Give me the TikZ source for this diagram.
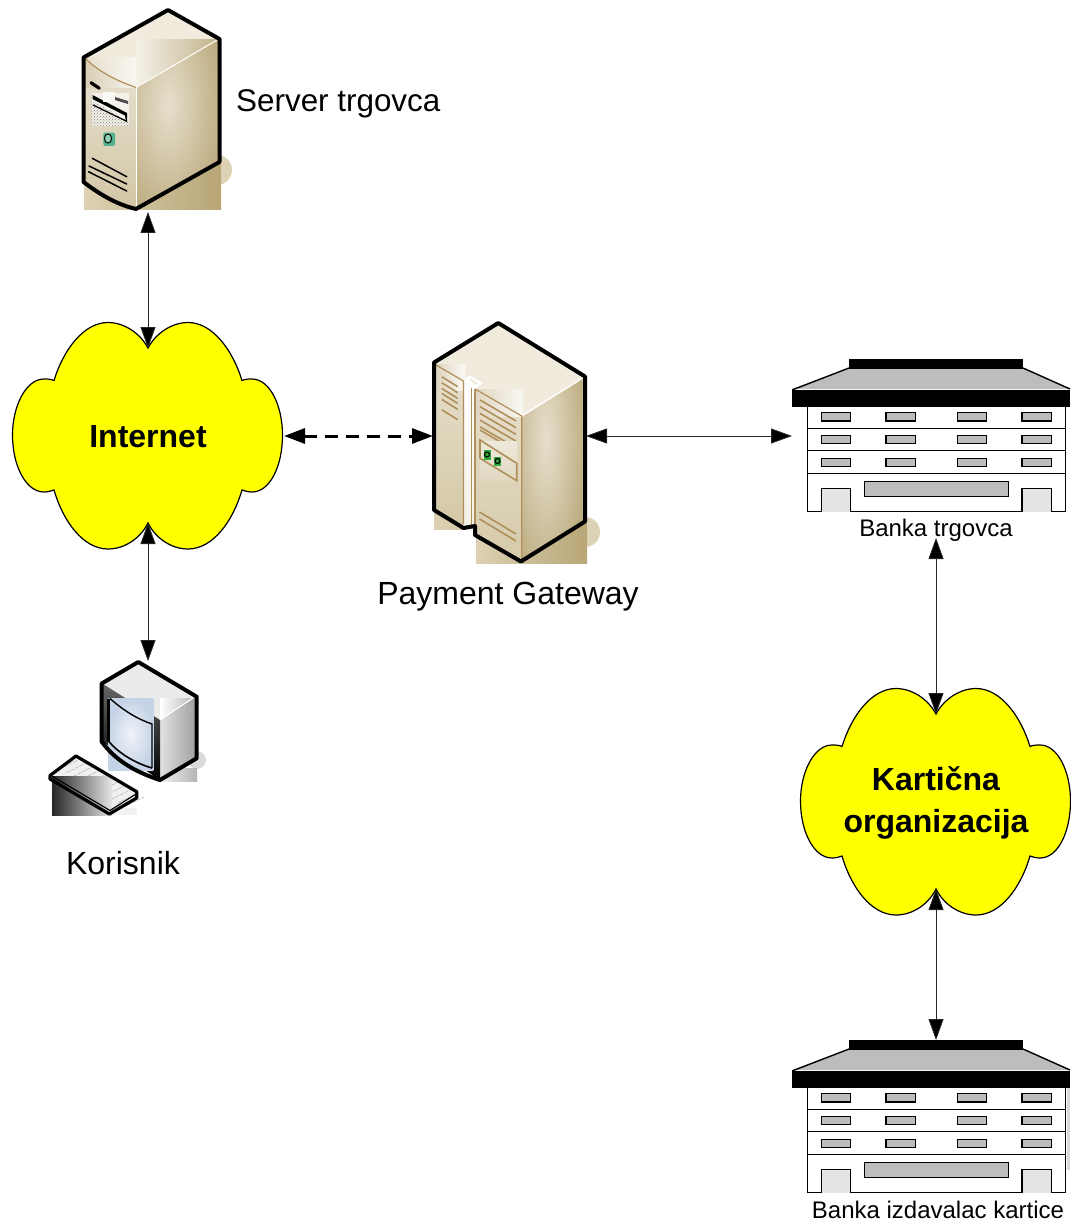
\documentclass[tikz,border=0pt]{standalone}
\usepackage{fontspec}
\setmainfont{Liberation Sans}
\usetikzlibrary{arrows.meta,patterns}
\newcommand{\hexc}[1]{\definecolor{#1}{HTML}{#1}}
\hexc{DCD1B3}\hexc{F4F1E9}\hexc{BCAC80}\hexc{D3C7A6}\hexc{E4DDCA}\hexc{CFC2A0}\hexc{D5C9A9}
\hexc{F8F6F0}\hexc{D8CEB4}\hexc{D2C6A5}\hexc{C2B38A}\hexc{CDBF99}\hexc{E2DBC6}\hexc{D8CDB0}
\hexc{DED5BE}\hexc{FAF9F5}\hexc{F4F0E6}\hexc{FFFFFF}\hexc{F0EBDD}\hexc{E6DFCC}\hexc{D6CAAA}
\hexc{E0D6C0}\hexc{F8F7F2}\hexc{D4C8A6}\hexc{EDE8DA}\hexc{2FA83A}\hexc{4FB28A}\hexc{8FCFB0}
\hexc{F0F3F9}\hexc{C5D3E6}\hexc{E0D8C2}
\definecolor{brownline}{HTML}{B08F5A}
\definecolor{groundtan}{HTML}{DDD3B4}
\definecolor{tandark}{HTML}{B8A677}
\definecolor{topface}{HTML}{F0EBDD}
\definecolor{winfill}{HTML}{BDBDBD}
\definecolor{doorfill}{HTML}{E4E4E4}
\definecolor{cloudyellow}{RGB}{255,255,0}
\tikzset{
  outline/.style={line width=4pt,line join=round,draw=black},
  brownthin/.style={line width=1.2pt,draw=brownline},
  conn/.style={line width=0.8pt,draw=black!85,{Triangle[length=21pt,width=15pt,fill=black]}-{Triangle[length=21pt,width=15pt,fill=black]}},
  conndash/.style={line width=3pt,draw=black,dash pattern=on 13pt off 8pt,{Triangle[length=21pt,width=15pt,fill=black]}-{Triangle[length=21pt,width=15pt,fill=black]}},
  cloudfill/.style={fill=cloudyellow,draw=black,line width=1.2pt},
  caption/.style={font=\fontsize{32}{36}\selectfont,inner sep=0pt},
  smallcap/.style={font=\fontsize{24}{28}\selectfont,inner sep=0pt},
  boldcap/.style={font=\fontsize{32}{42}\selectfont\bfseries,inner sep=0pt,align=center},
  winbox/.style={fill=winfill,draw=black,line width=1.3pt},
  floorline/.style={draw=black,line width=1.2pt},
  cloudshape/.pic={
    \path[cloudfill] (0,-88)
      .. controls (8,-103) and (24,-113.5) .. (40,-113.5)
      .. controls (65,-113.5) and (85,-85) .. (94,-55.5)
      .. controls (97,-57) and (101,-57) .. (104,-57)
      .. controls (122,-57) and (134.5,-30) .. (134.5,-1)
      .. controls (134.5,30) and (122,56) .. (104,56)
      .. controls (100,56) and (97,55) .. (94,54)
      .. controls (85,85) and (65,113) .. (40,113)
      .. controls (24,113) and (8,103) .. (0,87)
      .. controls (-8,103) and (-24,113) .. (-40,113)
      .. controls (-65,113) and (-85,85) .. (-94,54)
      .. controls (-97,55) and (-100,56) .. (-104,56)
      .. controls (-122,56) and (-135.5,30) .. (-135.5,-1)
      .. controls (-135.5,-30) and (-122,-57) .. (-104,-57)
      .. controls (-101,-57) and (-97,-57) .. (-94,-55.5)
      .. controls (-85,-85) and (-65,-113.5) .. (-40,-113.5)
      .. controls (-24,-113.5) and (-8,-103) .. (0,-88) -- cycle;
    \coordinate (-top) at (0,-88);
    \coordinate (-bottom) at (0,87);
    \coordinate (-east) at (136,0);
  },
  bankshape/.pic={
    \fill[white] (807,407) rectangle (1066,512);
    \path[fill=winfill] (849,368) -- (1023,368) -- (1070,389) -- (792,389) -- cycle;
    \draw[line width=1.4pt] (849,368) -- (792,390);
    \draw[line width=1.4pt] (1023,368) -- (1070,389);
    \fill[black] (849,359) rectangle (1023,368.5);
    \fill[black] (792,390) rectangle (1070,407);
    \draw[floorline] (807.5,407) -- (807.5,511.5) -- (1065.5,511.5) -- (1065.5,407);
    \foreach \yy in {428.3,450.7,473.3} \draw[floorline] (807.5,\yy) -- (1065.5,\yy);
    \foreach \xx in {821.5,886,957.5,1022} \foreach \yy in {412.7,435.3,458.3}
      \draw[winbox] (\xx,\yy) rectangle ++(29.3,8.4);
    \draw[winbox] (864.5,481.3) rectangle (1008.5,496.7);
    \draw[fill=doorfill,floorline] (821.5,511.5) -- (821.5,488.7) -- (850.7,488.7) -- (850.7,511.5);
    \draw[fill=doorfill,floorline] (1022,511.5) -- (1022,488.7) -- (1051.3,488.7) -- (1051.3,511.5);
    \coordinate (-top) at (936,359);
    \coordinate (-west) at (792,436);
  }
}
\begin{document}
\begin{tikzpicture}[x=1pt,y=-1pt]
\useasboundingbox (0,0) rectangle (1070,1222);

% ---------- Server trgovca
\fill[groundtan] (217,170) circle (15);
\shade[left color=DCD1B3,right color=tandark] (84,165) rectangle (221,210);
\fill[topface] (168,10) -- (219,39) -- (136,88) -- (84,58) -- cycle;
\shade[left color=F4F1E9,right color=C2B38A] (136,40) rectangle (217,87.5);
\begin{scope}
  \clip (136,87.5) -- (219,39) -- (219,162) -- (136,209) -- cycle;
  \fill[tandark] (130,35) rectangle (222,212);
  \shade[inner color=E6DFCC,outer color=tandark] (168,105) ellipse (62 and 135);
\end{scope}
\shade[left color=E6DFCC,right color=F8F6F0] (85,58) rectangle (136,87.5);
\begin{scope}
  \clip (85,58) .. controls (100,72) and (120,82) .. (136,87.5) -- (136,208) .. controls (115,203) and (100,192) .. (85,181) -- cycle;
  \shade[top color=E4DDCA,bottom color=D2C6A5] (84,85) rectangle (136,210);
  \shade[left color=D8CEB4,right color=F8F6F0] (85,58) rectangle (136,88);
\end{scope}
\draw[brownthin] (86,59) .. controls (100,73) and (120,82) .. (136,87.5);
\draw[white,line width=1pt] (136,87.5) -- (217,40);
\draw[white,line width=0.8pt] (136,87.5) -- (136,207);
% front panel details
\fill[F4F1E9] (91.7,93.3) rectangle (129.3,125.7);
\fill[pattern=crosshatch dots,pattern color=black!55] (91.7,100) -- (129.3,122) -- (129.3,125.7) -- (91.7,125.7) -- cycle;
\draw[line width=3.2pt,line cap=round] (91,82.7) -- (99.3,88.3);
\fill[black] (92.5,95) -- (127,113) -- (127,122) -- (126,122) -- (125,115.5) -- (92.5,99) -- cycle;
\draw[line width=1.2pt] (93,105) -- (126,121);
\fill[black!70] (115,97) -- (128,101) -- (128,104) -- (115,100) -- cycle;
\fill[FAF9F5] (102.7,91.7) rectangle (115,101.7);
\fill[4FB28A,rounded corners=2pt] (103.3,132.7) rectangle (115,146);
\draw[line width=0.9pt,fill=8FCFB0] (108,138.5) ellipse (3.6 and 4.6);
\draw[line width=1.5pt,line cap=round] (92.3,158.3) -- (126.7,176.7);
\draw[line width=1.5pt,line cap=round] (89,166) -- (126.7,184);
\draw[line width=1.5pt,line cap=round] (88.5,171.7) -- (126.7,191);
\draw[outline] (168,10) -- (219.5,39) -- (219.5,162) -- (136,209) .. controls (115,204) and (98,193) .. (83.5,182) -- (83.5,57.5) -- cycle;
\coordinate (server-bot) at (148,212);
\node[caption,anchor=west] (serverlabel) at (236,104) {\fontsize{31.4}{36}\selectfont Server trgovca};

% ---------- Payment Gateway
\fill[groundtan] (585,532) circle (15);
\shade[left color=DCD1B3,right color=D2C6A5] (434,505) rectangle (466,529);
\shade[left color=DCD1B3,right color=tandark] (476,520) rectangle (587,563);
\fill[topface] (498,323) -- (585,377) -- (521.7,416) -- (434,364) -- cycle;
\begin{scope}
  \clip (521.7,416) -- (582.7,378) -- (582.7,522) -- (521,560) -- cycle;
  \fill[tandark] (515,370) rectangle (590,565);
  \shade[inner color=E6DFCC,outer color=tandark] (546,440) ellipse (45 and 170);
\end{scope}
\draw[white,line width=1.4pt] (521.7,416) -- (582.7,378);
\shade[top color=E6DFCC,bottom color=D4C8A6] (436,364) -- (463.5,380) -- (463.5,525) -- (436,509) -- cycle;
\shade[left color=DED5BE,right color=FAF9F5] (436,364) rectangle (465,390);
\shade[top color=FFFFFF,bottom color=F4F0E6] (463.5,380) rectangle (475,528);
\fill[white] (465,378) -- (470,375.5) -- (483,383) -- (475,389) -- cycle;
\fill[F0EBDD] (469,379) -- (470,378) -- (478,383) -- (475,385) -- cycle;
\shade[top color=E6DFCC,bottom color=D6CAAA] (475,389) -- (521.7,416) -- (521.7,560) -- (475,533) -- cycle;
\shade[left color=E0D6C0,right color=F8F7F2] (475,389) rectangle (523,416);
\draw[brownthin] (436,365) -- (463.5,381) -- (463.5,524);
\draw[brownthin] (471.7,388) -- (471.7,526);
\draw[brownthin] (475,389) -- (521.7,416) -- (521.7,559);
\draw[brownthin] (475,389) -- (475,533);
\foreach \yy in {0,6,11.7,16.7,22.7,33}
  \draw[brownthin,line width=1.6pt] (441.7,376.7+\yy) -- (457.7,386.7+\yy);
\foreach \yy in {0,6.7,13.4,20.1,26.8,30}
  \draw[brownthin,line width=1.6pt] (480,400+\yy) -- (516,421+\yy);
\shade[top color=EDE8DA,bottom color=E0D8C2] (480,441.7) rectangle (517,480.7);
\draw[brownthin,line width=1.6pt] (480,440) -- (516.7,463.3) -- (516.7,480.7) -- (480,458.3) -- cycle;
\fill[2FA83A] (484,450) rectangle (490.7,460);
\fill[2FA83A] (494,456.7) rectangle (501,466);
\draw[line width=1.1pt] (487,454.5) circle (2.5);
\draw[line width=1.1pt] (497.5,461) circle (2.5);
\draw[brownthin,line width=1.6pt] (479.5,512) -- (516,534);
\draw[brownthin,line width=1.6pt] (479.5,519) -- (516,541);
\draw[outline] (498.3,323) -- (585,376.5) -- (585,521.5) -- (521,561.5) -- (475,535) -- (475,526) -- (463.5,528) -- (434,510) -- (434,362.5) -- cycle;
\coordinate (gate-west) at (433,436);
\coordinate (gate-east) at (586,436);
\node[caption] (gatelabel) at (508,597) {Payment Gateway};

% ---------- Korisnik
\fill[black!14] (197,760) circle (9);
\shade[left color=white,right color=black!30] (153,768) rectangle (197,781);
\fill[black!8] (138.3,662) -- (196.7,696.7) -- (160,720) -- (101.7,684) -- cycle;
\shade[left color=white,right color=black!28] (160,698) rectangle (194,720);
\begin{scope}
  \clip (160,720) -- (196.7,696.7) -- (196.7,758) -- (160,780) -- cycle;
  \shade[left color=black!8,right color=black!38] (155,696) rectangle (197,782);
\end{scope}
\shade[top color=black!60,bottom color=black] (103,684) -- (160,720) -- (160,780) -- (103,742) -- cycle;
\shade[inner color=F0F3F9,outer color=C5D3E6] (108.3,698.3) rectangle (153.3,770.7);
\draw[line width=1.4pt] (110,698.5) .. controls (125,712) and (140,720) .. (152,724) -- (152,768);
\draw[line width=2.2pt] (108.5,698.5) -- (108.5,741);
\draw[line width=1.6pt] (108.5,741) .. controls (120,755) and (138,764) .. (152,768);
\draw[white,line width=1pt] (160,720) -- (193,698);
\draw[outline] (138.3,662) -- (196.7,696.7) -- (196.7,758.3) -- (160,780) .. controls (135,772) and (115,760) .. (101.7,741.7) -- (101.7,683.5) -- cycle;
% keyboard
\fill[black!6] (76,756) -- (136.7,791.7) -- (136.7,798) -- (109.3,815) -- (50,780) -- (50,775.5) -- cycle;
\foreach \ii in {0,...,10}
  \draw[black!30,line width=0.6pt,dash pattern=on 4pt off 1pt] (60+\ii*6.4,769+\ii*3.8) -- (80+\ii*6.4,759+\ii*3.8);
\shade[left color=black!85,right color=black!10] (52,776.5) rectangle (112,815);
\fill[black!5] (112,808) rectangle (136.7,815);
\draw[line width=1.2pt] (51,775.5) -- (110,810.5) -- (136,794);
\draw[line width=3.2pt,line join=round] (76,756) -- (136.7,791.7) -- (136.7,798) -- (109.3,814) -- (50,779) -- (50,775.5) -- cycle;
\coordinate (user-top) at (148,661);
\node[caption] (userlabel) at (123,863) {Korisnik};

% ---------- Clouds
\pic (inet) at (148,436) {cloudshape};
\node[boldcap] (inetlabel) at (148,437) {Internet};
\pic (card) at (936,802) {cloudshape};
\node[boldcap] (cardlabel) at (936,803) {Karti\v{c}na\\organizacija};

% ---------- Banks
\pic (bankA) at (0,0) {bankshape};
\node[smallcap] (bankAlabel) at (936,530.5) {Banka trgovca};
\pic (bankB) at (0,681) {bankshape};
\fill[black!15] (1067,1088) rectangle (1070,1170);
\node[smallcap] (bankBlabel) at (938,1209.5) {Banka izdavalac kartice};
\coordinate (bankA-tip) at (936,538);

% ---------- Connectors
\draw[conn] (server-bot) -- (inet-top);
\draw[conn] (inet-bottom) -- (user-top);
\draw[conndash] (inet-east) -- (gate-west);
\draw[conn] (gate-east) -- (bankA-west);
\draw[conn] (bankA-tip) -- (card-top);
\draw[conn] (card-bottom) -- (bankB-top);
\end{tikzpicture}
\end{document}
